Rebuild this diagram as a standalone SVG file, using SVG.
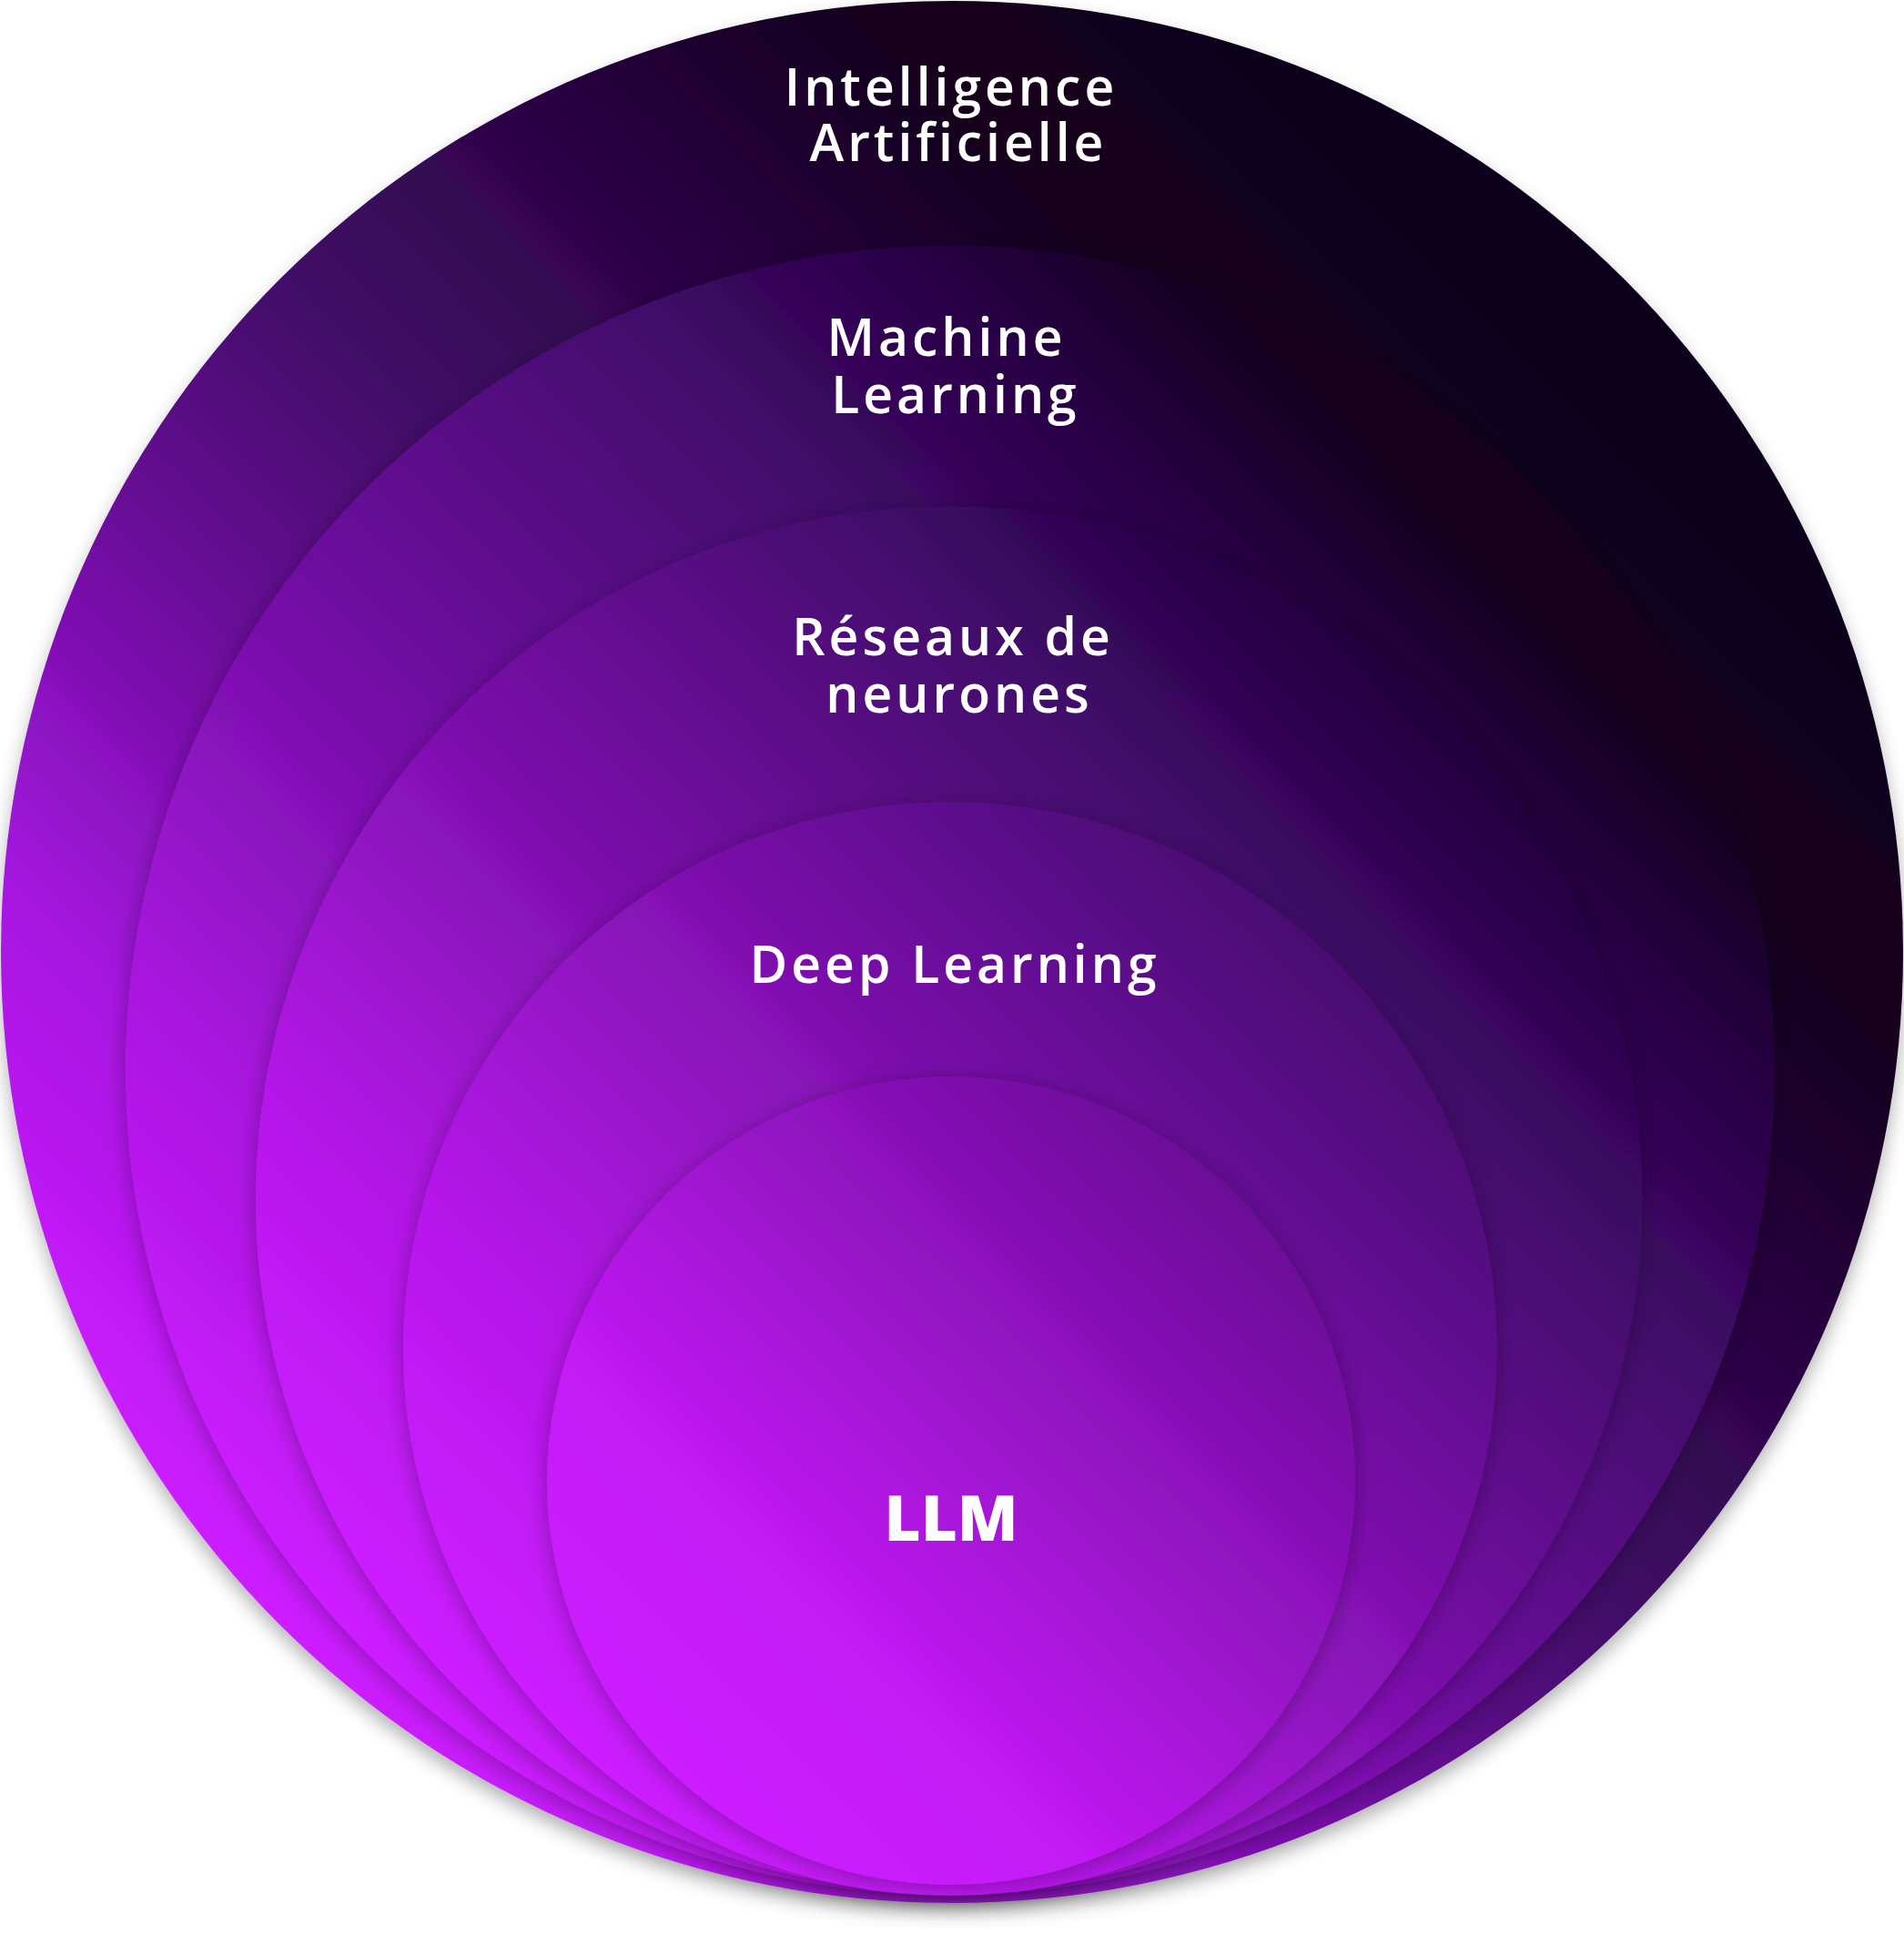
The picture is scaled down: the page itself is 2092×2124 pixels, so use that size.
<svg xmlns="http://www.w3.org/2000/svg" width="2092" height="2124" viewBox="0 0 2092 2124">
<defs>
<style>
.lbl{font-family:"Open Sans","Noto Sans","Liberation Sans",sans-serif;font-size:57px;font-weight:600;fill:#ffffff;letter-spacing:4px;text-anchor:middle}
.big{font-family:"Open Sans","Noto Sans","Liberation Sans",sans-serif;font-size:69px;font-weight:800;fill:#ffffff;text-anchor:middle}
</style>
<filter id="shOuter" x="-10%" y="-10%" width="120%" height="125%">
<feDropShadow dx="0" dy="10" stdDeviation="10" flood-color="#000" flood-opacity="0.3"/>
</filter>
<filter id="sh" x="-10%" y="-10%" width="120%" height="125%">
<feDropShadow dx="0" dy="4" stdDeviation="12" flood-color="#000" flood-opacity="0.3"/>
</filter>
<linearGradient id="gOuter" x1="0.15" y1="0.85" x2="0.85" y2="0.15">
<stop offset="0" stop-color="#cc1cff"/>
<stop offset="0.17" stop-color="#a615e0"/>
<stop offset="0.35" stop-color="#6a0e9a"/>
<stop offset="0.49" stop-color="#440a6a"/>
<stop offset="0.6" stop-color="#330752"/>
<stop offset="0.82" stop-color="#13001e"/>
<stop offset="1" stop-color="#10001a"/>
</linearGradient>
<linearGradient id="gML" x1="0.15" y1="0.85" x2="0.85" y2="0.15">
<stop offset="0" stop-color="#cc1cff"/>
<stop offset="0.17" stop-color="#ac17e2"/>
<stop offset="0.44" stop-color="#6e0ea0"/>
<stop offset="0.7" stop-color="#400868"/>
<stop offset="0.83" stop-color="#2a0448"/>
<stop offset="0.95" stop-color="#14001f"/>
<stop offset="1" stop-color="#12001c"/>
</linearGradient>
<linearGradient id="gRN" x1="0.15" y1="0.85" x2="0.85" y2="0.15">
<stop offset="0" stop-color="#cc1cff"/>
<stop offset="0.2" stop-color="#b618ea"/>
<stop offset="0.5" stop-color="#7a10aa"/>
<stop offset="0.83" stop-color="#3e0866"/>
<stop offset="1" stop-color="#22033e"/>
</linearGradient>
<linearGradient id="gDL" x1="0.15" y1="0.85" x2="0.85" y2="0.15">
<stop offset="0" stop-color="#cc1cff"/>
<stop offset="0.25" stop-color="#b618ea"/>
<stop offset="0.55" stop-color="#8c13bc"/>
<stop offset="0.83" stop-color="#600b90"/>
<stop offset="1" stop-color="#4a0872"/>
</linearGradient>
<linearGradient id="gLLM" x1="0.15" y1="0.85" x2="0.85" y2="0.15">
<stop offset="0" stop-color="#cc1cff"/>
<stop offset="0.28" stop-color="#c21af4"/>
<stop offset="0.55" stop-color="#a014d0"/>
<stop offset="0.83" stop-color="#8010b0"/>
<stop offset="1" stop-color="#6c0e98"/>
</linearGradient>
</defs>
<rect x="0" y="0" width="2092" height="2124" fill="#ffffff"/>
<g id="node-ia">
<circle cx="1046" cy="1046" r="1045" fill="url(#gOuter)" filter="url(#shOuter)"/>
<text class="lbl" x="1045" y="116">Intelligence</text>
<text class="lbl" x="1053" y="177">Artificielle</text>
</g>
<g id="node-ml">
<circle cx="1044" cy="1176" r="906" fill="url(#gML)" filter="url(#sh)"/>
<text class="lbl" x="1040" y="391">Machine</text>
<text class="lbl" x="1050" y="454">Learning</text>
</g>
<g id="node-rn">
<circle cx="1043" cy="1318" r="762" fill="url(#gRN)" filter="url(#sh)"/>
<text class="lbl" x="1047" y="720">Réseaux de</text>
<text class="lbl" x="1054" y="783">neurones</text>
</g>
<g id="node-dl">
<circle cx="1044" cy="1482" r="601" fill="url(#gDL)" filter="url(#sh)"/>
<text class="lbl" x="1049" y="1080">Deep Learning</text>
</g>
<g id="node-llm">
<circle cx="1045" cy="1627" r="444" fill="url(#gLLM)" filter="url(#sh)"/>
<text class="big" x="1045" y="1693">LLM</text>
</g>
</svg>
